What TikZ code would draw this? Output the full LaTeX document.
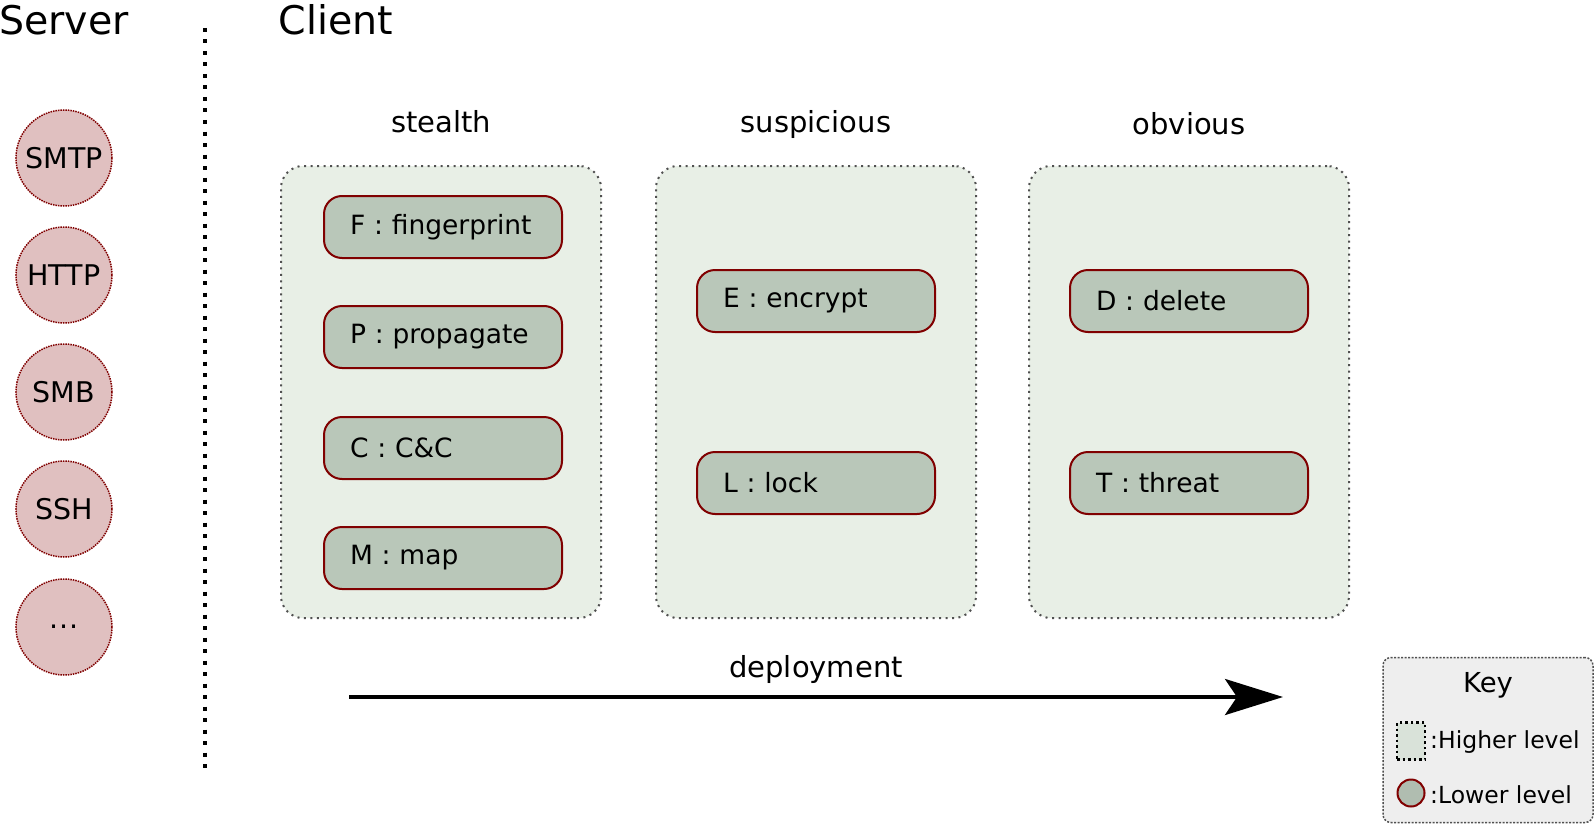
\documentclass[tikz,border=0pt]{standalone}
\usepackage{fontspec}
\setmainfont{DejaVu Sans}
\usetikzlibrary{arrows.meta}

\definecolor{protofill}{RGB}{224,192,192}
\definecolor{protoline}{RGB}{128,0,0}
\definecolor{groupfill}{RGB}{232,239,230}
\definecolor{groupline}{RGB}{80,80,80}
\definecolor{actionfill}{RGB}{185,199,185}
\definecolor{keyfill}{RGB}{238,238,238}
\definecolor{keyhigh}{RGB}{217,226,217}
\definecolor{keylow}{RGB}{176,189,176}

\tikzset{
    proto/.style={circle, minimum size=96pt, fill=protofill, draw=protoline,
        line width=1.5pt, dash pattern=on 1.5pt off 1pt,
        font=\fontsize{28.5}{32}\selectfont},
    group/.style={rectangle, rounded corners=22pt, minimum width=320pt,
        minimum height=452pt, fill=groupfill, draw=groupline, line width=2pt,
        dash pattern=on 2pt off 4.5pt},
    action/.style={rectangle, rounded corners=18pt, minimum width=238pt,
        minimum height=62pt, text width=186pt, inner xsep=26pt, align=left,
        fill=actionfill, draw=protoline, line width=2pt,
        font=\fontsize{26.5}{30}\selectfont},
    grouptitle/.style={anchor=base, font=\fontsize{29}{33}\selectfont},
    heading/.style={font=\fontsize{39.5}{44}\selectfont},
    keytext/.style={anchor=west, inner sep=0pt, font=\fontsize{23.5}{27}\selectfont}
}

\begin{document}
\begin{tikzpicture}[x=1pt, y=-1pt]
    \useasboundingbox (0,0) rectangle (1594,824);
    % Headings
    \node[heading] (Server) at (64,20) {Server};
    \node[heading] (Client) at (336,20) {Client};
    % Divider
    \coordinate (Divide-top) at (205,28);
    \coordinate (Divide-bottom) at (205,768);
    \draw[line width=4pt, dash pattern=on 4pt off 7.5pt] (Divide-top) -- (Divide-bottom);
    % Server protocols
    \foreach \name [count=\i] in {SMTP,HTTP,SMB,SSH} {
        \node[proto] (Proto-\i) at (64,{158+117*(\i-1)}) {\name};
    }
    \node[proto] (Proto-5) at (64,627) {.\kern1pt.\kern1pt.};
    % Client groups
    \foreach \name/\x/\ty in {stealth/441/132, suspicious/816/132, obvious/1189/135} {
        \node[group] (Group-\name) at (\x,392) {};
        \node[grouptitle] (Title-\name) at (\x,\ty) {\name};
    }
    % Stealth actions
    \foreach \name/\y [count=\i] in {F : fingerprint/227, P : propagate/337, C : C\&C/448, M : map/558} {
        \node[action] (Act-S\i) at (443,\y) {\name};
    }
    % Suspicious actions
    \node[action] (Act-E) at (816,301) {E : encrypt};
    \node[action] (Act-L) at (816,483) {L : lock};
    % Obvious actions
    \node[action] (Act-D) at (1189,301) {D : delete};
    \node[action] (Act-T) at (1189,483) {T : threat};
    % Deployment
    \coordinate (Deploy-start) at (349,697);
    \coordinate (Deploy-end) at (1283,697);
    \draw[line width=4pt, -{Stealth[length=58pt, width=36pt, inset=12pt]}]
        (Deploy-start) -- (Deploy-end)
        node[midway, above=8pt, font=\fontsize{29}{33}\selectfont] (Deploy-label) {deployment};
    % Key
    \node[rectangle, rounded corners=8pt, minimum width=210pt, minimum height=165pt,
        fill=keyfill, draw=groupline, line width=1.5pt, dash pattern=on 2pt off 1.5pt]
        (Key) at (1488,740) {};
    \node[font=\fontsize{27.5}{31}\selectfont] (Key-title) at (1488,685) {Key};
    \node[rectangle, minimum width=28pt, minimum height=37pt, fill=keyhigh,
        draw=black, line width=2.5pt, dash pattern=on 2.5pt off 3pt] (Key-high) at (1411,741) {};
    \node[keytext] (Key-high-text) at (1430,742) {:Higher level};
    \node[circle, minimum size=27pt, inner sep=0pt, fill=keylow,
        draw=protoline, line width=2pt] (Key-low) at (1411,793) {};
    \node[keytext] (Key-low-text) at (1430,795) {:Lower level};
\end{tikzpicture}
\end{document}
